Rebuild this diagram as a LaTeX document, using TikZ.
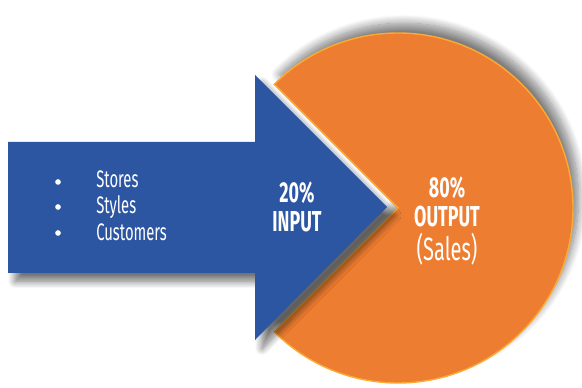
\documentclass[tikz,border=0pt]{standalone}
\usepackage{fontspec}
\setmainfont{Fira Sans}[FakeStretch=0.62]
\usetikzlibrary{shadows.blur}
\definecolor{arrowblue}{RGB}{44,86,162}
\definecolor{pieorange}{RGB}{237,125,49}
\definecolor{rimyellow}{RGB}{252,170,50}
\tikzstyle{bigarrow}=[
	fill=arrowblue,
	blur shadow={shadow xshift=5pt, shadow yshift=-6pt, shadow blur radius=5pt, shadow blur steps=12, shadow opacity=55}
]
\tikzstyle{pie}=[
	fill=pieorange,
	draw=rimyellow,
	line width=1pt,
	line join=miter,
	blur shadow={shadow xshift=4pt, shadow yshift=7pt, shadow blur radius=6pt, shadow blur steps=12, shadow opacity=50}
]
\tikzstyle{item}=[
	text=white,
	font=\fontsize{17}{20}\selectfont,
	anchor=base west,
	inner sep=0pt
]
\tikzstyle{dot}=[
	circle,
	fill=white,
	inner sep=0pt,
	minimum size=4pt
]
\tikzstyle{share}=[
	text=white,
	font=\bfseries\fontsize{20.5}{21}\selectfont,
	align=center,
	inner sep=0pt
]

\begin{document}
\begin{tikzpicture}[x=0.025cm,y=0.025cm]
\useasboundingbox (0,0) rectangle (582,387);
\coordinate (Centre) at (398,179);
\path[pie] (Centre) -- ++(-135:175) arc[start angle=-135, end angle=135, radius=175] -- cycle;
\path[bigarrow] (8,114) -- (8,245) -- (255,245) -- (255,312) -- (387,180)
	-- (255,47) -- (255,114) -- cycle;
\node [dot] (Dot1) at (58,205) {};
\node [dot] (Dot2) at (58,180) {};
\node [dot] (Dot3) at (58,154) {};
\node [item] (Stores) at (96,199) {Stores};
\node [item] (Styles) at (96,173) {Styles};
\node [item] (Customers) at (96,146) {Customers};
\node [share] (Input) at (297,180) {20\%\\INPUT};
\node [share] (Output) at (447,185) {80\%\\OUTPUT};
\node [text=white, font=\fontsize{23}{26}\selectfont, inner sep=0pt] (Sales) at (447,138) {(Sales)};
\end{tikzpicture}
\end{document}
